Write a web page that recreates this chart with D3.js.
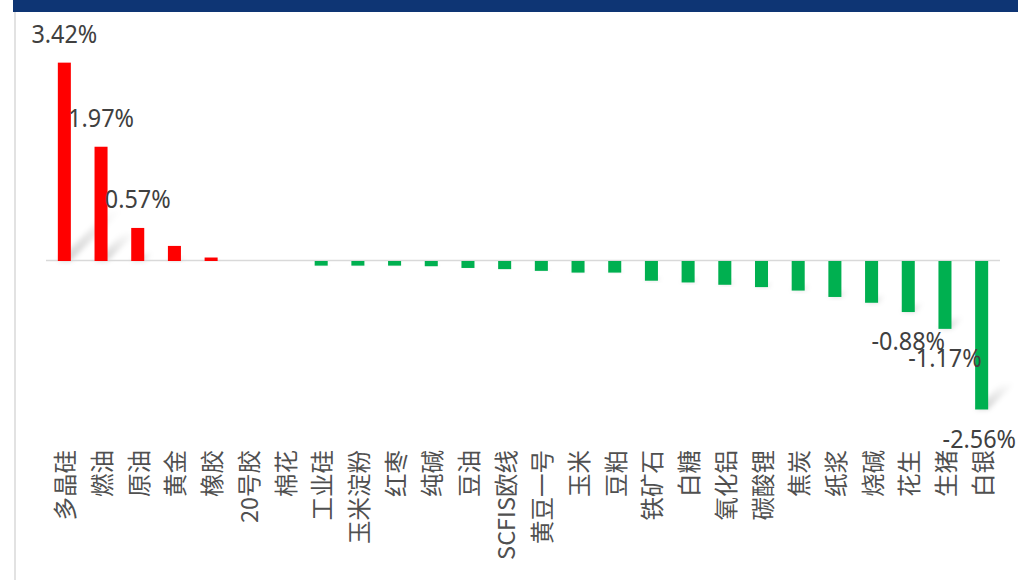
<!DOCTYPE html>
<html>
<head>
<meta charset="utf-8">
<script src="https://cdn.jsdelivr.net/npm/d3@7"></script>
<style>
  body { margin: 0; background: #fff; }
  svg { display: block; }
</style>
</head>
<body>
<svg width="1018" height="580"></svg>
<script>
// commodity names, daily change in %
const categories = ["多晶硅", "燃油", "原油", "黄金", "橡胶", "20号胶", "棉花", "工业硅", "玉米淀粉", "红枣",
    "纯碱", "豆油", "SCFIS欧线", "黄豆一号", "玉米", "豆粕", "铁矿石", "白糖", "氧化铝", "碳酸锂",
    "焦炭", "纸浆", "烧碱", "花生", "生猪", "白银"];
const changes = [3.42, 1.97, 0.57, 0.26, 0.06, 0, 0, -0.08, -0.08, -0.08,
    -0.09, -0.12, -0.14, -0.17, -0.2, -0.2, -0.34, -0.37, -0.41, -0.45,
    -0.51, -0.62, -0.72, -0.88, -1.17, -2.56];
// only these bars carry a value label
const labelled = ["多晶硅", "燃油", "原油", "花生", "生猪", "白银"];

let svg = d3.select("svg"),
    width = +svg.attr("width"),
    height = +svg.attr("height");

// header strip and left border
svg.append("rect")
    .attr("x", 13).attr("y", 0)
    .attr("width", width - 13).attr("height", 12)
    .attr("fill", "#0e3574");
svg.append("line")
    .attr("x1", 15).attr("x2", 15)
    .attr("y1", 12).attr("y2", height)
    .attr("stroke", "#d9d9d9").attr("stroke-width", 1.5);

// scales
let x = d3.scaleBand()
    .domain(categories)
    .range([46, 1000])
    .paddingInner(0.645)
    .paddingOuter(0.3225);

let y = d3.scaleLinear()
    .domain([-3, 4])
    .range([435, 29]);

// soft perspective shadow like the office chart
let defs = svg.append("defs");
let grad = defs.append("linearGradient")
    .attr("id", "shade")
    .attr("x1", 0).attr("y1", 1).attr("x2", 0).attr("y2", 0);
grad.append("stop").attr("offset", 0).attr("stop-color", "#000").attr("stop-opacity", 0.18);
grad.append("stop").attr("offset", 1).attr("stop-color", "#000").attr("stop-opacity", 0);
defs.append("filter")
    .attr("id", "blur")
    .attr("x", "-50%").attr("y", "-50%").attr("width", "200%").attr("height", "200%")
    .append("feGaussianBlur").attr("stdDeviation", 2.5);

let data = categories.map((c, i) => ({ name: c, value: changes[i] }));

svg.append("g")
    .selectAll("path")
    .data(data.filter(d => d.value !== 0))
    .enter().append("path")
        .attr("fill", "url(#shade)")
        .attr("filter", "url(#blur)")
        .attr("d", d => {
            let x0 = x(d.name), x1 = x0 + x.bandwidth();
            let yb = Math.max(y(d.value), y(0));
            let len = Math.abs(y(d.value) - y(0)) * (d.value > 0 ? 0.26 : 0.18);
            return "M" + x0 + "," + yb + "L" + x1 + "," + yb +
                "L" + (x1 + len) + "," + (yb - len) + "L" + (x0 + len) + "," + (yb - len) + "Z";
        });

// zero line
svg.append("line")
    .attr("x1", 46).attr("x2", 1000)
    .attr("y1", y(0) - 0.5).attr("y2", y(0) - 0.5)
    .attr("stroke", "#d9d9d9").attr("stroke-width", 1.3);

// bars
svg.append("g")
    .selectAll("rect")
    .data(data)
    .enter().append("rect")
        .attr("x", d => x(d.name))
        .attr("width", x.bandwidth())
        .attr("y", d => Math.min(y(d.value), y(0)))
        .attr("height", d => Math.abs(y(d.value) - y(0)))
        .attr("fill", d => d.value >= 0 ? "#ff0000" : "#00b050");

// value labels (plain hyphen for the minus, as in the source)
let labels = svg.append("g")
    .selectAll("g")
    .data(data.filter(d => labelled.indexOf(d.name) > -1))
    .enter().append("g");

labels.append("text")
    .attr("text-anchor", "middle")
    .attr("fill", "#404040")
    .style("font-family", "'Noto Sans', 'Open Sans', sans-serif")
    .style("font-size", "26px")
    .text(d => d.value.toFixed(2) + "%");

labels.attr("transform", function(d) {
    let w = this.getBBox().width * 0.9;
    let cx = Math.min(x(d.name) + x.bandwidth() / 2, 1016 - w / 2);
    let cy = d.value >= 0 ? y(d.value) - 29 : y(d.value) + 29;
    return "translate(" + cx + "," + (cy + 9.3) + ") scale(0.9,1)";
});

// category axis, vertical text
let axis = svg.append("g")
    .attr("transform", "translate(0,450)")
    .call(d3.axisBottom(x).tickSize(0));
axis.select(".domain").remove();
axis.selectAll("text")
    .attr("x", 0).attr("y", 0).attr("dy", null)
    .attr("transform", "rotate(-90)")
    .attr("text-anchor", "end")
    .attr("dominant-baseline", "central")
    .attr("fill", "#505050")
    .style("font-family", "'Noto Sans CJK SC', sans-serif")
    .style("font-size", "23.5px");
</script>
</body>
</html>
